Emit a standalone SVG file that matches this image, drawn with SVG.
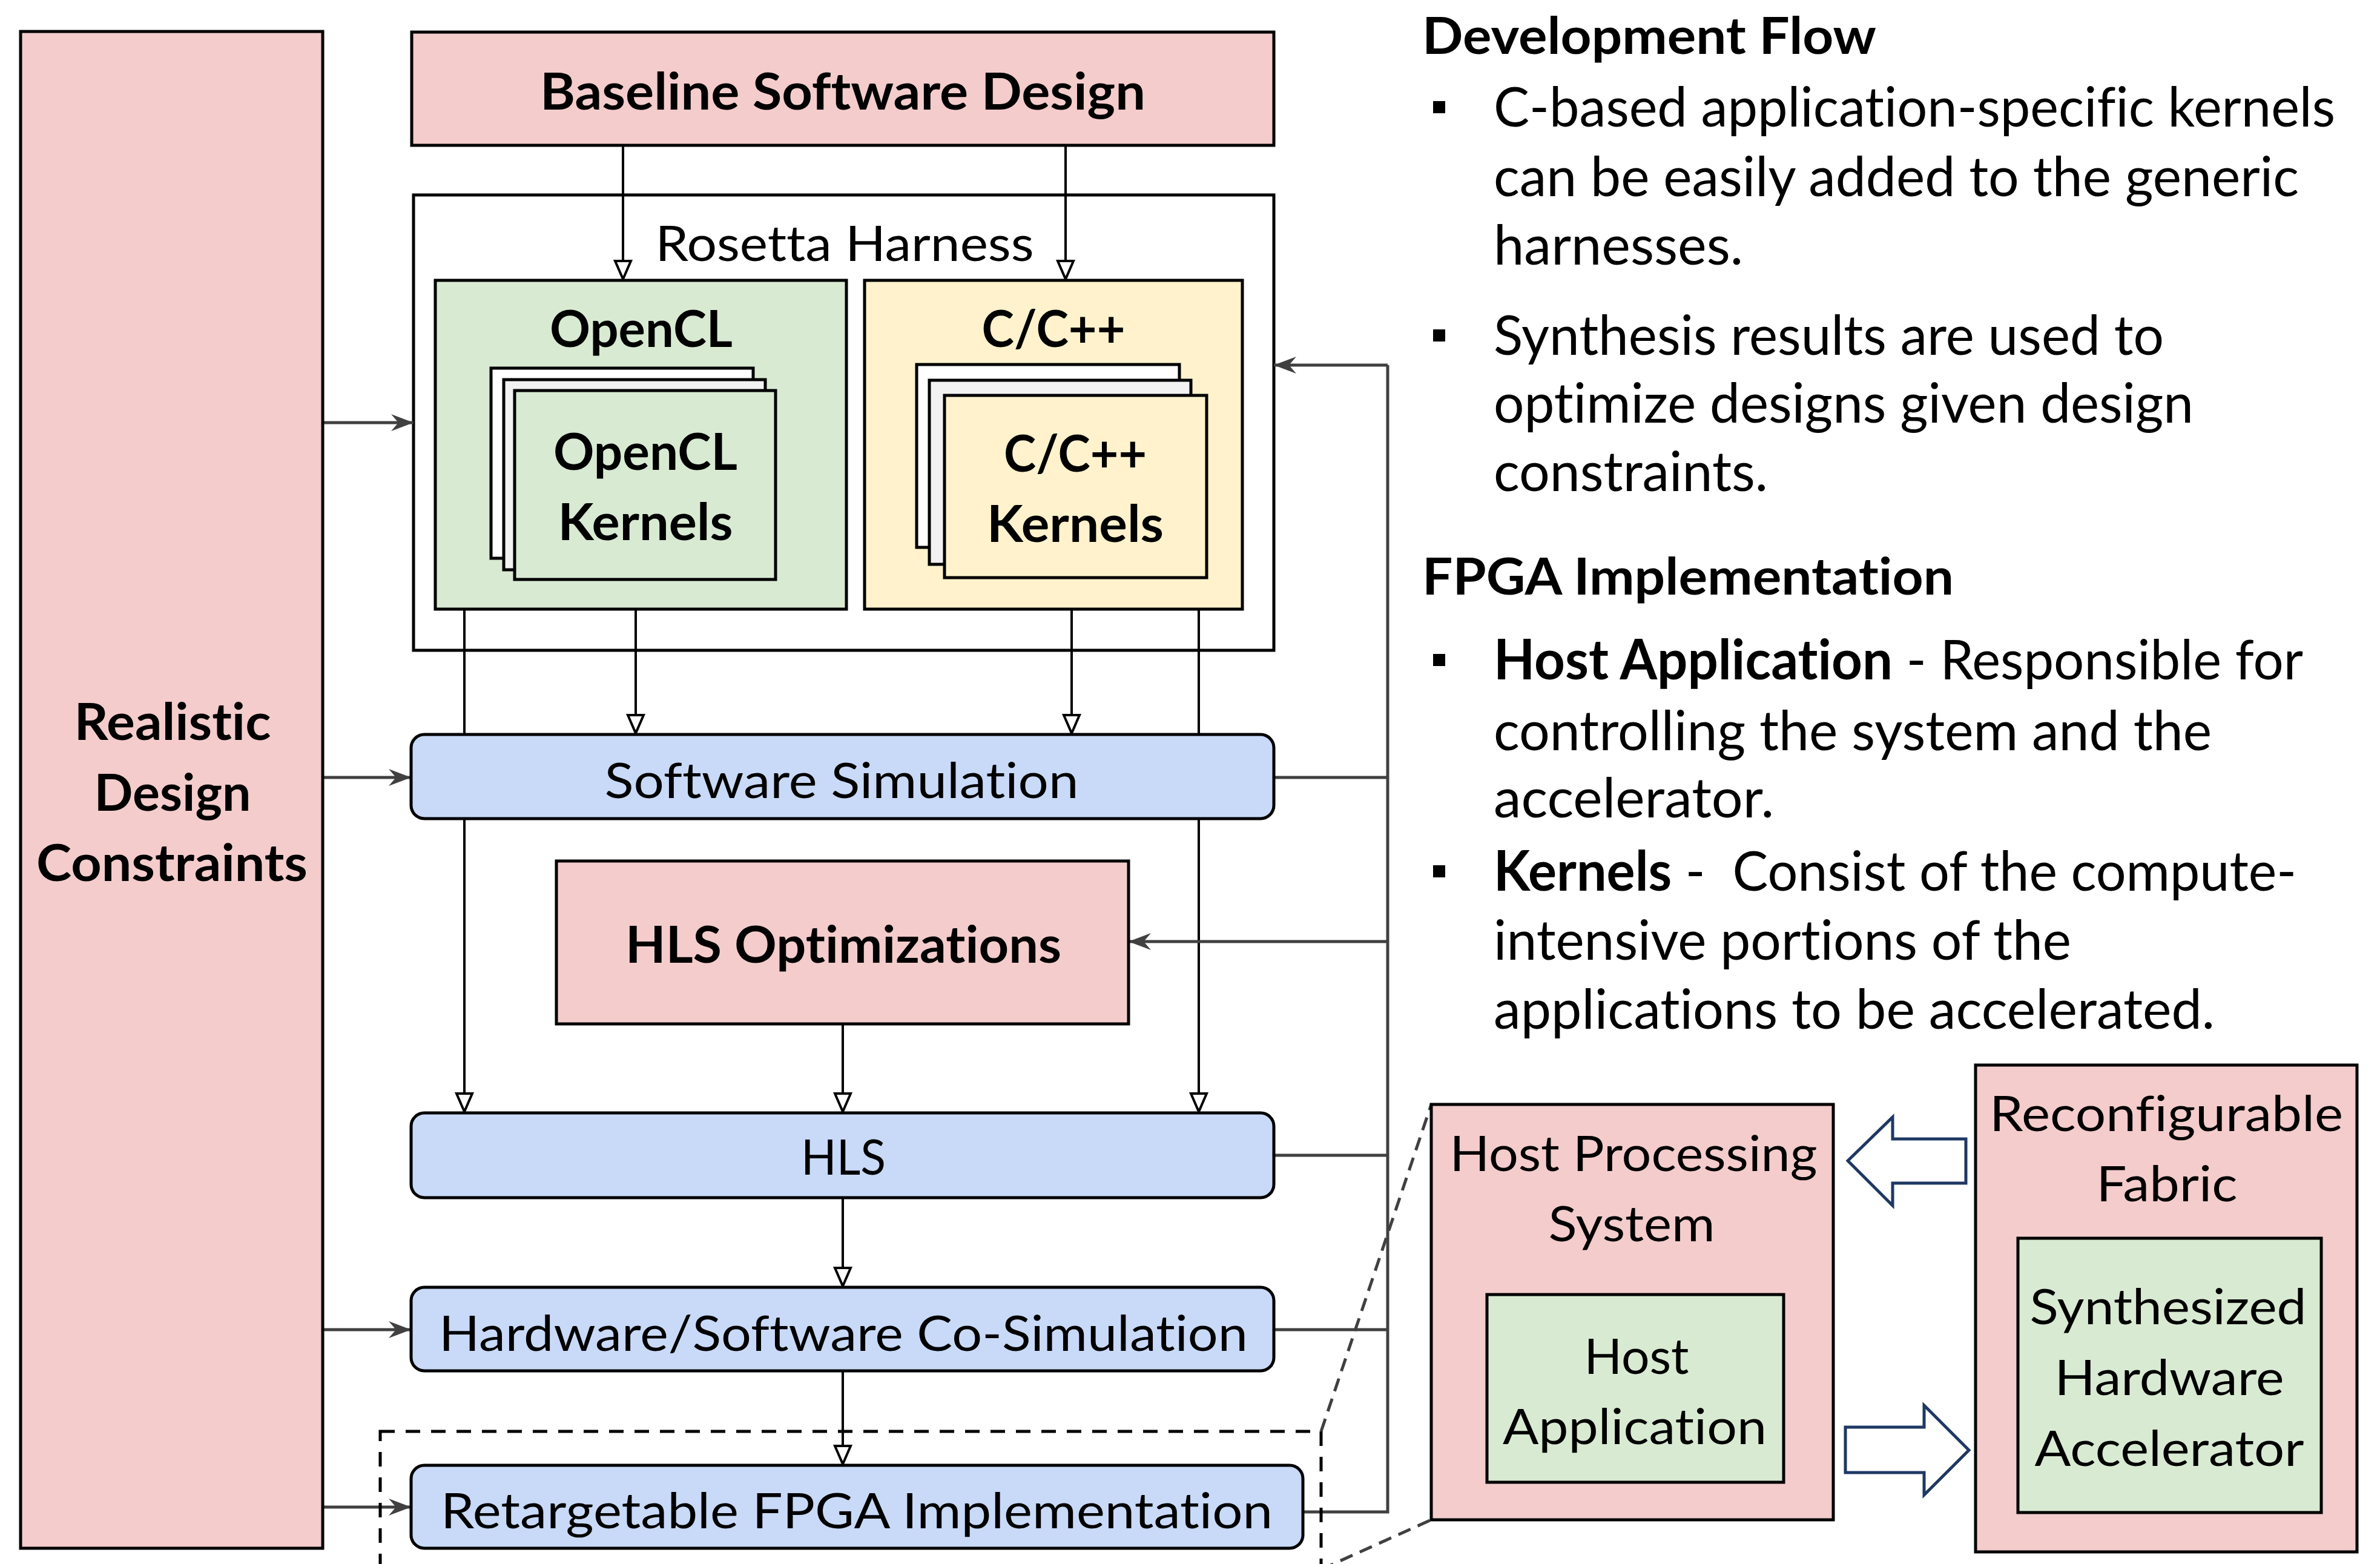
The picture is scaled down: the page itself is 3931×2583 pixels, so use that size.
<svg xmlns="http://www.w3.org/2000/svg" width="3931" height="2583" viewBox="0 0 3931 2583">
<style>
.t{font-family:Lato,"Liberation Sans",sans-serif;fill:#000;font-variant-ligatures:none;font-feature-settings:"liga" 0,"dlig" 0}
.b{font-weight:bold;font-size:84px}
.r{font-weight:normal;font-size:82px}
.body{font-weight:normal;font-size:91px;white-space:pre}
.m{text-anchor:middle}
.box{stroke:#000;stroke-width:5}
.pink{fill:#F4CCCC}
.green{fill:#D9EAD3}
.yellow{fill:#FFF2CC}
.blue{fill:#C9DAF8}
.blk{stroke:#000;stroke-width:4;fill:none;marker-end:url(#tri)}
.gry{stroke:#404040;stroke-width:5;fill:none}
.ga{marker-end:url(#stealth)}
.blockarrow{fill:#fff;stroke:#1F3864;stroke-width:5;stroke-linejoin:miter}
</style>
<defs>
<marker id="tri" markerUnits="userSpaceOnUse" markerWidth="44" markerHeight="40" viewBox="-4 -20 44 40" refX="32" refY="0" orient="auto" overflow="visible">
<path d="M0,-13 L30,0 L0,13 Z" fill="#fff" stroke="#000" stroke-width="4"/>
</marker>
<marker id="stealth" markerUnits="userSpaceOnUse" markerWidth="44" markerHeight="40" viewBox="-4 -20 44 40" refX="37" refY="0" orient="auto" overflow="visible">
<path d="M0,-14 L37,0 L0,14 L12,0 Z" fill="#404040"/>
</marker>
</defs>
<rect width="3931" height="2583" fill="#fff"/>

<g id="rosetta-harness">
<rect class="box" x="683" y="322" width="1421" height="752" fill="#fff"/>
<text class="t r m" x="1395" y="431" textLength="625" lengthAdjust="spacingAndGlyphs">Rosetta Harness</text>
</g>

<g id="connectors">
<line class="blk" x1="1029" y1="240" x2="1029" y2="463"/>
<line class="blk" x1="1760" y1="240" x2="1760" y2="463"/>
<line class="blk" x1="1050" y1="1006" x2="1050" y2="1213"/>
<line class="blk" x1="1770" y1="1006" x2="1770" y2="1213"/>
<line class="blk" x1="767" y1="1006" x2="767" y2="1838"/>
<line class="blk" x1="1980" y1="1006" x2="1980" y2="1838"/>
<line class="blk" x1="1392" y1="1691" x2="1392" y2="1838"/>
<line class="blk" x1="1392" y1="1978" x2="1392" y2="2126"/>
<line class="blk" x1="1392" y1="2264" x2="1392" y2="2420"/>
<line class="gry ga" x1="533" y1="698" x2="683" y2="698"/>
<line class="gry ga" x1="533" y1="1284" x2="679" y2="1284"/>
<line class="gry ga" x1="533" y1="2196" x2="679" y2="2196"/>
<line class="gry ga" x1="533" y1="2489" x2="679" y2="2489"/>
<polyline class="gry" points="2104,1284 2292,1284"/>
<polyline class="gry" points="2104,1908 2292,1908"/>
<polyline class="gry" points="2104,2196 2292,2196"/>
<polyline class="gry" points="2152,2497 2292,2497 2292,603"/>
<polyline class="gry ga" points="2292,603 2104,603"/>
<polyline class="gry ga" points="2292,1555 1864,1555"/>
<line x1="2182" y1="2364" x2="2364" y2="1824" stroke="#404040" stroke-width="5" stroke-dasharray="22 13"/>
<line x1="2182" y1="2592" x2="2364" y2="2510" stroke="#404040" stroke-width="5" stroke-dasharray="22 13"/>
<polygon class="blockarrow" points="3052,1917 3126,1845 3126,1881 3247,1881 3247,1954 3126,1954 3126,1991"/>
<polygon class="blockarrow" points="3048,2357 3178,2357 3178,2321 3252,2395 3178,2469 3178,2432 3048,2432"/>
</g>

<g id="realistic-design-constraints">
<rect class="box pink" x="34" y="52" width="499" height="2505"/>
<text class="t b m" x="285" y="1222" textLength="325" lengthAdjust="spacingAndGlyphs">Realistic</text>
<text class="t b m" x="285" y="1339" textLength="259" lengthAdjust="spacingAndGlyphs">Design</text>
<text class="t b m" x="284" y="1455" textLength="448" lengthAdjust="spacingAndGlyphs">Constraints</text>
</g>

<g id="baseline-software-design">
<rect class="box pink" x="680" y="53" width="1424" height="187"/>
<text class="t b m" x="1392" y="181" textLength="1000" lengthAdjust="spacingAndGlyphs">Baseline Software Design</text>
</g>

<g id="opencl">
<rect class="box green" x="719" y="463" width="679" height="543"/>
<text class="t b m" x="1059" y="573" textLength="302" lengthAdjust="spacingAndGlyphs">OpenCL</text>
</g>

<g id="opencl-kernels">
<rect class="box" x="811" y="608" width="433" height="314" fill="#fff"/>
<rect class="box" x="832" y="627" width="432" height="314" fill="#F2F2F2"/>
<rect class="box green" x="850" y="645" width="431" height="312"/>
<text class="t b m" x="1066" y="776" textLength="304" lengthAdjust="spacingAndGlyphs">OpenCL</text>
<text class="t b m" x="1066" y="892" textLength="289" lengthAdjust="spacingAndGlyphs">Kernels</text>
</g>

<g id="cpp">
<rect class="box yellow" x="1428" y="463" width="624" height="543"/>
<text class="t b m" x="1740" y="573" textLength="237" lengthAdjust="spacingAndGlyphs">C/C++</text>
</g>

<g id="cpp-kernels">
<rect class="box" x="1514" y="602" width="434" height="302" fill="#fff"/>
<rect class="box" x="1535" y="628" width="432" height="304" fill="#F2F2F2"/>
<rect class="box yellow" x="1560" y="653" width="433" height="301"/>
<text class="t b m" x="1776" y="779" textLength="236" lengthAdjust="spacingAndGlyphs">C/C++</text>
<text class="t b m" x="1776" y="895" textLength="292" lengthAdjust="spacingAndGlyphs">Kernels</text>
</g>

<g id="software-simulation">
<rect class="box blue" x="679" y="1213" width="1425" height="139" rx="22"/>
<text class="t r m" x="1390" y="1318" textLength="783" lengthAdjust="spacingAndGlyphs">Software Simulation</text>
</g>

<g id="hls-optimizations">
<rect class="box pink" x="919" y="1422" width="945" height="269"/>
<text class="t b m" x="1393" y="1590" textLength="720" lengthAdjust="spacingAndGlyphs">HLS Optimizations</text>
</g>

<g id="hls">
<rect class="box blue" x="679" y="1838" width="1425" height="140" rx="22"/>
<text class="t r m" x="1393" y="1940" textLength="140" lengthAdjust="spacingAndGlyphs">HLS</text>
</g>

<g id="co-simulation">
<rect class="box blue" x="679" y="2126" width="1425" height="138" rx="22"/>
<text class="t r m" x="1393" y="2231" textLength="1336" lengthAdjust="spacingAndGlyphs">Hardware/Software Co-Simulation</text>
</g>

<g id="fpga-implementation">
<rect x="628" y="2364" width="1554" height="260" fill="none" stroke="#000" stroke-width="5" stroke-dasharray="24 18"/>
<rect class="box blue" x="679" y="2420" width="1473" height="137" rx="22"/>
<text class="t r m" x="1415" y="2524" textLength="1374" lengthAdjust="spacingAndGlyphs">Retargetable FPGA Implementation</text>
</g>

<g id="host-processing-system">
<rect class="box pink" x="2364" y="1824" width="664" height="686"/>
<text class="t r m" x="2698" y="1934" textLength="607" lengthAdjust="spacingAndGlyphs">Host Processing</text>
<text class="t r m" x="2695" y="2050" textLength="275" lengthAdjust="spacingAndGlyphs">System</text>
</g>

<g id="host-application">
<rect class="box green" x="2456" y="2138" width="490" height="310"/>
<text class="t r m" x="2703" y="2269" textLength="173" lengthAdjust="spacingAndGlyphs">Host</text>
<text class="t r m" x="2700" y="2385" textLength="436" lengthAdjust="spacingAndGlyphs">Application</text>
</g>

<g id="reconfigurable-fabric">
<rect class="box pink" x="3263" y="1759" width="630" height="804"/>
<text class="t r m" x="3578" y="1868" textLength="584" lengthAdjust="spacingAndGlyphs">Reconfigurable</text>
<text class="t r m" x="3579" y="1984" textLength="233" lengthAdjust="spacingAndGlyphs">Fabric</text>
</g>

<g id="synthesized-hardware-accelerator">
<rect class="box green" x="3333" y="2045" width="501" height="453"/>
<text class="t r m" x="3581" y="2187" textLength="457" lengthAdjust="spacingAndGlyphs">Synthesized</text>
<text class="t r m" x="3583" y="2304" textLength="379" lengthAdjust="spacingAndGlyphs">Hardware</text>
<text class="t r m" x="3583" y="2421" textLength="445" lengthAdjust="spacingAndGlyphs">Accelerator</text>
</g>

<g id="notes">
<text class="t b" x="2349" y="89" textLength="750" lengthAdjust="spacingAndGlyphs">Development Flow</text>
<rect x="2367" y="167" width="20" height="20" fill="#000"/>
<text class="t body" x="2467" y="209" textLength="1390" lengthAdjust="spacingAndGlyphs">C-based application-specific kernels</text>
<text class="t body" x="2467" y="324" textLength="1330" lengthAdjust="spacingAndGlyphs">can be easily added to the generic</text>
<text class="t body" x="2467" y="437" textLength="412" lengthAdjust="spacingAndGlyphs">harnesses.</text>
<rect x="2367" y="544" width="20" height="20" fill="#000"/>
<text class="t body" x="2467" y="586" textLength="1107" lengthAdjust="spacingAndGlyphs">Synthesis results are used to</text>
<text class="t body" x="2467" y="698" textLength="1156" lengthAdjust="spacingAndGlyphs">optimize designs given design</text>
<text class="t body" x="2467" y="811" textLength="453" lengthAdjust="spacingAndGlyphs">constraints.</text>
<text class="t b" x="2349" y="982" textLength="878" lengthAdjust="spacingAndGlyphs">FPGA Implementation</text>
<rect x="2367" y="1080" width="20" height="20" fill="#000"/>
<text class="t body" x="2467" y="1122" textLength="1337" lengthAdjust="spacingAndGlyphs"><tspan font-weight="bold">Host Application</tspan> - Responsible for</text>
<text class="t body" x="2467" y="1239" textLength="1186" lengthAdjust="spacingAndGlyphs">controlling the system and the</text>
<text class="t body" x="2467" y="1350" textLength="463" lengthAdjust="spacingAndGlyphs">accelerator.</text>
<rect x="2367" y="1429" width="20" height="20" fill="#000"/>
<text class="t body" x="2467" y="1471" textLength="1326" lengthAdjust="spacingAndGlyphs"><tspan font-weight="bold">Kernels</tspan> -  Consist of the compute-</text>
<text class="t body" x="2467" y="1585" textLength="954" lengthAdjust="spacingAndGlyphs">intensive portions of the</text>
<text class="t body" x="2467" y="1699" textLength="1191" lengthAdjust="spacingAndGlyphs">applications to be accelerated.</text>
</g>
</svg>
